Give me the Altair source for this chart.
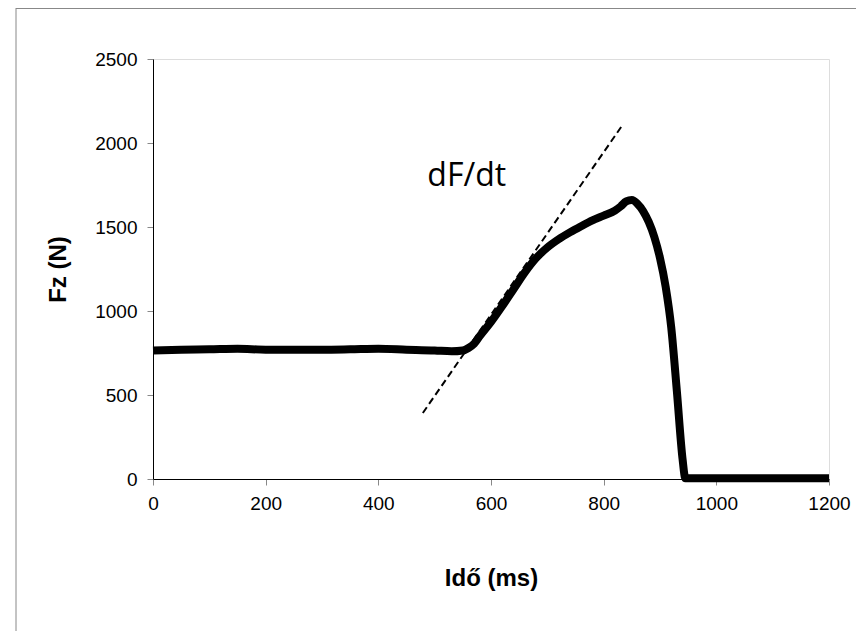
import altair as alt
import pandas as pd

# Force curve
time_ms = [0, 50, 100, 150, 200, 250, 300, 350, 400, 450, 500, 530, 550, 560, 570,
           580, 600, 620, 640, 660, 680, 700, 720, 740, 760, 780, 800, 820, 830,
           840, 850, 860, 870, 880, 890, 900, 910, 920, 930, 940, 945, 1000, 1100, 1200]
force_n = [765, 770, 772, 775, 770, 770, 770, 772, 775, 770, 765, 760, 765, 780, 805,
           850, 935, 1030, 1130, 1230, 1315, 1378, 1427, 1468, 1505, 1540, 1568, 1598, 1622,
           1652, 1660, 1638, 1595, 1530, 1440, 1315, 1145, 900, 520, 120, 5, 5, 5, 5]

# Tangent (dF/dt) line
tangent_t = [479, 831]
tangent_f = [393, 2095]

# Annotation
label_text = ["dF/dt"]
label_t = [557]
label_f = [1744]

x_ticks = [0, 200, 400, 600, 800, 1000, 1200]
y_ticks = [0, 500, 1000, 1500, 2000, 2500]

curve = pd.DataFrame({"t": time_ms, "f": force_n})
tangent = pd.DataFrame({"t": tangent_t, "f": tangent_f})
label = pd.DataFrame({"t": label_t, "f": label_f, "txt": label_text})

W, H = 676, 420

x_scale = alt.Scale(domain=[0, 1200], nice=False)
y_scale = alt.Scale(domain=[0, 2500], nice=False)

x_axis = alt.Axis(values=x_ticks, format="d", title="Idő (ms)", grid=False,
                  domainColor="black", tickColor="#888888", tickSize=6,
                  labelFontSize=19, labelFont="Liberation Sans", labelColor="black",
                  labelPadding=9, titleFont="Liberation Sans", titleFontSize=24,
                  titleFontWeight="bold", titleColor="black", titlePadding=53,
                  labelFlush=False)
y_axis = alt.Axis(values=y_ticks, format="d", title="Fz (N)", grid=False,
                  domainColor="black", tickColor="#888888", tickSize=6,
                  labelFontSize=19, labelFont="Liberation Sans", labelColor="black",
                  labelPadding=10, titleFont="Liberation Sans", titleFontSize=24,
                  titleFontWeight="bold", titleColor="black", titlePadding=24,
                  labelFlush=False)

line = alt.Chart(curve).mark_line(color="black", strokeWidth=8, interpolate="monotone",
                                  strokeJoin="round").encode(
    x=alt.X("t:Q", scale=x_scale, axis=x_axis),
    y=alt.Y("f:Q", scale=y_scale, axis=y_axis),
)

dash = alt.Chart(tangent).mark_line(color="black", strokeWidth=2, strokeDash=[7, 4]).encode(
    x=alt.X("t:Q", scale=x_scale),
    y=alt.Y("f:Q", scale=y_scale),
)

text = alt.Chart(label).mark_text(font="Open Sans", fontSize=32, align="center",
                                  baseline="alphabetic", color="black").encode(
    x=alt.X("t:Q", scale=x_scale),
    y=alt.Y("f:Q", scale=y_scale),
    text="txt:N",
)

# Outer chart-area border (left and top edges)
border_left = alt.Chart(pd.DataFrame({"a": [0]})).mark_rule(color="#888888", strokeWidth=1).encode(
    x=alt.value(-137), y=alt.value(-51), y2=alt.value(H + 152)
)
border_top = alt.Chart(pd.DataFrame({"a": [0]})).mark_rule(color="#888888", strokeWidth=1).encode(
    x=alt.value(-137), x2=alt.value(W + 27), y=alt.value(-50.5)
)

chart = alt.layer(border_left, border_top, dash, line, text).properties(
    width=W, height=H,
    autosize=alt.AutoSizeParams(type="none"),
    padding={"left": 145, "top": 51, "right": 27, "bottom": 152},
).configure_view(stroke="#888888", strokeWidth=1).configure(background="white")

chart.save("out.html", embed_options={"renderer": "svg", "actions": False})
